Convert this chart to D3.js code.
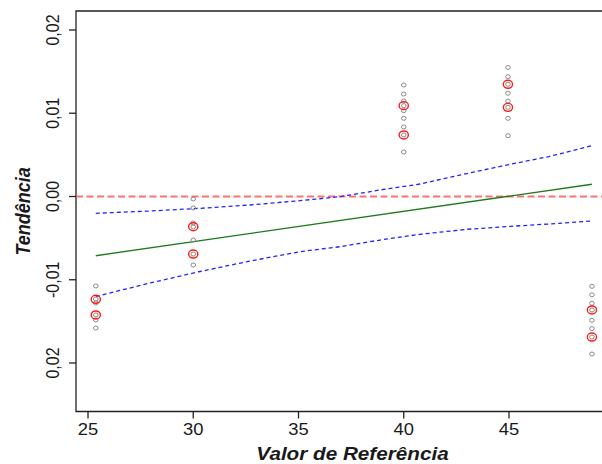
<!DOCTYPE html>
<html lang="pt">
  <head>
    <meta charset="UTF-8" />
    <title>Tendência</title>
    <style>
      body { margin: 0; background: #fff; }
      text { font-family: "Liberation Sans", Arial, sans-serif; fill: #1a1a1a; }
    </style>
  </head>
  <body>
    <script src="https://d3js.org/d3.v7.min.js"></script>
    <script>
      const width = 602;
      const height = 464;

      // groups along the x axis
      const groupX = [25.37, 30, 40, 44.95, 48.94];
      // grey points (individual values) per group
      const greyValues = [
        [-0.01075, -0.01231, -0.01279, -0.01423, -0.01483, -0.0158],
        [-0.0003, -0.00138, -0.00318, -0.00366, -0.00523, -0.00691, -0.00823],
        [0.01339, 0.01231, 0.01147, 0.01091, 0.01031, 0.00939, 0.00835, 0.00739, 0.00535],
        [0.0155, 0.01439, 0.01348, 0.0124, 0.01147, 0.01071, 0.00939, 0.0073],
        [-0.01079, -0.01181, -0.01283, -0.01363, -0.01487, -0.01587, -0.01688, -0.01892],
      ];
      // red points per group
      const redValues = [
        [-0.01235, -0.01423],
        [-0.00363, -0.00691],
        [0.01091, 0.00739],
        [0.01348, 0.01071],
        [-0.01363, -0.01688],
      ];

      // trend line
      const fitX = [25.37, 48.94];
      const fitY = [-0.00711, 0.00147];

      // confidence band
      const bandX = [25.37, 27.95, 30.32, 32.7, 35.07, 36.97, 38.87, 40.77, 43.0, 45.0, 46.9, 48.94];
      const bandUpper = [-0.00202, -0.00174, -0.00142, -0.00102, -0.0005, -0.00002, 0.00078, 0.0015, 0.00276, 0.00384, 0.0048, 0.0061];
      const bandLower = [-0.01201, -0.01039, -0.00901, -0.00775, -0.00663, -0.00603, -0.00523, -0.00454, -0.00394, -0.0036, -0.0033, -0.00294];

      const xTicks = [25, 30, 35, 40, 45];
      const yTicks = [-0.02, -0.01, 0, 0.01, 0.02];
      const yTickLabels = ["0,02", "-0,01", "0,00", "0,01", "0,02"];

      const box = { left: 76, top: 11, bottom: 411.5, right: 615 };
      const stretch = 1.15;

      const x = d3.scaleLinear().domain([25, 45]).range([88, 509]);
      const y = d3.scaleLinear().domain([-0.02, 0.02]).range([363, 30]);

      const svg = d3
        .select("body")
        .append("svg")
        .attr("width", width)
        .attr("height", height);

      // plot box (right edge falls outside the picture)
      svg
        .append("path")
        .attr("d", `M${box.right},${box.top}H${box.left}V${box.bottom}H${box.right}`)
        .attr("fill", "none")
        .attr("stroke", "#222")
        .attr("stroke-width", 1.3);

      // x axis ticks and labels
      const xg = svg.append("g");
      xg.selectAll("line")
        .data(xTicks)
        .join("line")
        .attr("x1", (d) => x(d))
        .attr("x2", (d) => x(d))
        .attr("y1", box.bottom)
        .attr("y2", box.bottom + 7)
        .attr("stroke", "#222")
        .attr("stroke-width", 1.3);
      xg.selectAll("text")
        .data(xTicks)
        .join("text")
        .attr("transform", (d) => `translate(${x(d)},435) scale(${stretch},1)`)
        .attr("text-anchor", "middle")
        .attr("font-size", 16)
        .text((d) => d);

      // y axis ticks and labels
      const yg = svg.append("g");
      yg.selectAll("line")
        .data(yTicks)
        .join("line")
        .attr("x1", box.left - 7)
        .attr("x2", box.left)
        .attr("y1", (d) => y(d))
        .attr("y2", (d) => y(d))
        .attr("stroke", "#222")
        .attr("stroke-width", 1.3);
      yg.selectAll("text")
        .data(yTicks)
        .join("text")
        .attr("transform", (d) => `translate(59,${y(d)}) scale(${stretch},1) rotate(-90)`)
        .attr("text-anchor", "middle")
        .attr("font-size", 16)
        .text((d, i) => yTickLabels[i]);

      // axis titles
      svg
        .append("text")
        .attr("transform", `translate(352.5,460) scale(${stretch},1)`)
        .attr("text-anchor", "middle")
        .attr("font-size", 18)
        .attr("font-weight", "bold")
        .attr("font-style", "italic")
        .text("Valor de Referência");
      svg
        .append("text")
        .attr("transform", `translate(30,211.5) scale(${stretch},1) rotate(-90)`)
        .attr("text-anchor", "middle")
        .attr("font-size", 18)
        .attr("font-weight", "bold")
        .attr("font-style", "italic")
        .text("Tendência");

      // clip everything to the plot area
      svg
        .append("clipPath")
        .attr("id", "plot")
        .append("rect")
        .attr("x", box.left + 0.7)
        .attr("y", box.top + 0.7)
        .attr("width", box.right - box.left)
        .attr("height", box.bottom - box.top - 1.4);
      const plot = svg.append("g").attr("clip-path", "url(#plot)");

      // zero reference line
      plot
        .append("line")
        .attr("x1", box.left)
        .attr("x2", box.right)
        .attr("y1", y(0))
        .attr("y2", y(0))
        .attr("stroke", "#ff7070")
        .attr("stroke-width", 2)
        .attr("stroke-dasharray", "7,3.5");

      // confidence band
      const bandLine = (vals) =>
        d3
          .line()
          .x((d, i) => x(bandX[i]))
          .y((d) => y(d))(vals);
      plot
        .selectAll("path.band")
        .data([bandUpper, bandLower])
        .join("path")
        .attr("class", "band")
        .attr("d", (d) => bandLine(d))
        .attr("fill", "none")
        .attr("stroke", "#2222ff")
        .attr("stroke-width", 1.3)
        .attr("stroke-dasharray", "4,3");

      // trend line
      plot
        .append("path")
        .attr(
          "d",
          d3
            .line()
            .x((d, i) => x(fitX[i]))
            .y((d) => y(d))(fitY)
        )
        .attr("fill", "none")
        .attr("stroke", "#1f7a1f")
        .attr("stroke-width", 1.4);

      // grey points
      const greys = greyValues.flatMap((vals, g) => vals.map((v) => ({ x: groupX[g], y: v })));
      plot
        .selectAll("ellipse.grey")
        .data(greys)
        .join("ellipse")
        .attr("class", "grey")
        .attr("cx", (d) => x(d.x))
        .attr("cy", (d) => y(d.y))
        .attr("rx", 2.3)
        .attr("ry", 2)
        .attr("fill", "none")
        .attr("stroke", "#8a8a8a")
        .attr("stroke-width", 1);

      // red points
      const reds = redValues.flatMap((vals, g) => vals.map((v) => ({ x: groupX[g], y: v })));
      plot
        .selectAll("ellipse.red")
        .data(reds)
        .join("ellipse")
        .attr("class", "red")
        .attr("cx", (d) => x(d.x))
        .attr("cy", (d) => y(d.y))
        .attr("rx", 4.6)
        .attr("ry", 4)
        .attr("fill", "none")
        .attr("stroke", "#ff1a1a")
        .attr("stroke-width", 1.4);
    </script>
  </body>
</html>
